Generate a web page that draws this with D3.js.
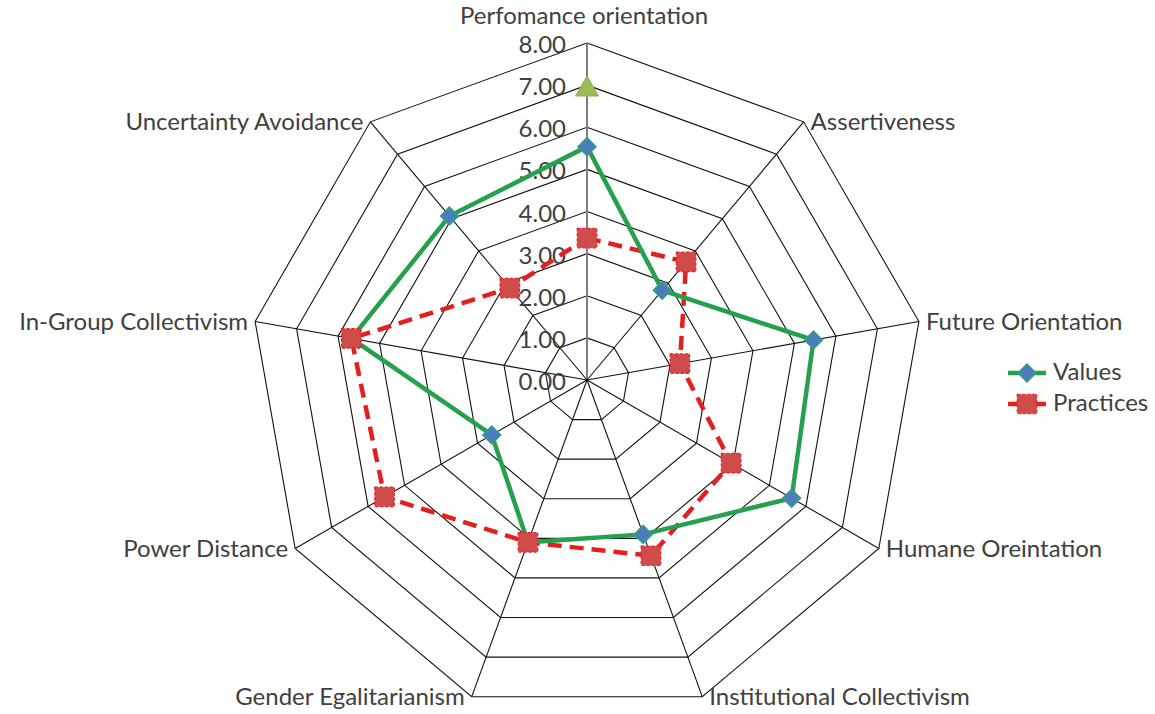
<!DOCTYPE html>
<html>
<head>
<meta charset="utf-8">
<script src="https://cdn.jsdelivr.net/npm/d3@7"></script>
<style>
  body { margin: 0; background: #fff; }
  svg { display: block; }
  text { font-family: Lato, "Open Sans", sans-serif; fill: #404040; }
</style>
</head>
<body>
<svg width="1155" height="714"></svg>
<script>
// chart data
const categories = ["Perfomance orientation", "Assertiveness", "Future Orientation",
  "Humane Oreintation", "Institutional Collectivism", "Gender Egalitarianism",
  "Power Distance", "In-Group Collectivism", "Uncertainty Avoidance"];
const valuesSeries = [5.54, 2.78, 5.46, 5.61, 3.90, 4.10, 2.61, 5.68, 5.08];
const practicesSeries = [3.37, 3.66, 2.24, 3.95, 4.44, 4.10, 5.55, 5.68, 2.85];
const targetSeries = [6.90, null, null, null, null, null, null, null, null];
const tickValues = [0, 1, 2, 3, 4, 5, 6, 7, 8];
const legendNames = ["Values", "Practices"];

var svg = d3.select("svg");
var cx = 587, cy = 380;
var R = 337;
var fontSize = 24;

var r = d3.scaleLinear().domain([0, 8]).range([0, R]);
var angle = d3.scaleLinear().domain([0, categories.length]).range([0, 2 * Math.PI]);

function pt(i, v) {
    var a = angle(i);
    return [cx + r(v) * Math.sin(a), cy - r(v) * Math.cos(a)];
}

var g = svg.append("g");

// grid nonagons
g.selectAll("polygon.grid")
    .data(tickValues.slice(1))
    .enter()
    .append("polygon")
    .attr("class", "grid")
    .attr("points", t => categories.map((c, i) => pt(i, t).join(",")).join(" "))
    .attr("fill", "none")
    .attr("stroke", "#111")
    .attr("stroke-width", 1.1);

// spokes
g.selectAll("line.spoke")
    .data(categories)
    .enter()
    .append("line")
    .attr("x1", cx).attr("y1", cy)
    .attr("x2", (d, i) => pt(i, 8)[0])
    .attr("y2", (d, i) => pt(i, 8)[1])
    .attr("stroke", (d, i) => i == 0 ? "#7f7f7f" : "#111")
    .attr("stroke-width", (d, i) => i == 0 ? 2 : 1.1);

// tick labels
g.selectAll("text.tick")
    .data(tickValues)
    .enter()
    .append("text")
    .attr("x", cx - 21)
    .attr("y", t => cy - r(t) + 4)
    .attr("text-anchor", "end")
    .attr("dominant-baseline", "middle")
    .style("font-size", fontSize + "px")
    .text(t => d3.format(".2f")(t));

// category labels
g.selectAll("text.cat")
    .data(categories)
    .enter()
    .append("text")
    .attr("x", (d, i) => {
        var p = pt(i, 8);
        if (i == 0) return p[0] - 3;
        return i < 5 ? p[0] + 7 : p[0] - 7;
    })
    .attr("y", (d, i) => i == 0 ? pt(i, 8)[1] - 25 : pt(i, 8)[1] + 2)
    .attr("text-anchor", (d, i) => i == 0 ? "middle" : (i < 5 ? "start" : "end"))
    .attr("dominant-baseline", "middle")
    .style("font-size", fontSize + "px")
    .text(d => d);

var radial = d3.lineRadial()
    .angle((d, i) => angle(i))
    .radius(d => r(d))
    .curve(d3.curveLinearClosed);

var series = g.append("g").attr("transform", `translate(${cx},${cy})`);

series.append("path")
    .attr("d", radial(practicesSeries))
    .attr("fill", "none")
    .attr("stroke", "#e3201f")
    .attr("stroke-width", 4.5)
    .attr("stroke-dasharray", "14,8");

series.append("path")
    .attr("d", radial(valuesSeries))
    .attr("fill", "none")
    .attr("stroke", "#25a04c")
    .attr("stroke-width", 4.5);

var diamond = d3.symbol().type(d3.symbolSquare).size(160);
var square = d3.symbol().type(d3.symbolSquare).size(380);
var tri = d3.symbol().type(d3.symbolTriangle).size(230);

g.selectAll("path.vmark")
    .data(valuesSeries)
    .enter()
    .append("path")
    .attr("d", diamond)
    .attr("transform", (d, i) => `translate(${pt(i, d)}) rotate(45)`)
    .attr("fill", "#4a7ebb")
    .attr("stroke", "#3a9a8a")
    .attr("stroke-width", 1.5);

g.selectAll("path.pmark")
    .data(practicesSeries)
    .enter()
    .append("path")
    .attr("d", square)
    .attr("transform", (d, i) => `translate(${pt(i, d)})`)
    .attr("fill", "#cf4c4a")
    .attr("stroke", "#e3201f")
    .attr("stroke-width", 1.2)
    .attr("stroke-dasharray", "3,2");

g.selectAll("path.tmark")
    .data(targetSeries.map((v, i) => [v, i]).filter(d => d[0] != null))
    .enter()
    .append("path")
    .attr("d", tri)
    .attr("transform", d => `translate(${pt(d[1], d[0])})`)
    .attr("fill", "#9bbb59")
    .attr("stroke", "#8aae4a");

// legend
var legend = svg.append("g").attr("transform", "translate(1008,373)");
legendNames.forEach((name, k) => {
    var row = legend.append("g").attr("transform", `translate(0,${k * 31})`);
    row.append("line")
        .attr("x1", 0).attr("x2", 38)
        .attr("stroke", k == 0 ? "#25a04c" : "#e3201f")
        .attr("stroke-width", 4.5)
        .attr("stroke-dasharray", k == 0 ? null : "10,4");
    if (k == 0) {
        row.append("path").attr("d", diamond)
            .attr("transform", "translate(19,0) rotate(45)")
            .attr("fill", "#4a7ebb").attr("stroke", "#3a9a8a").attr("stroke-width", 1.5);
    } else {
        row.append("path").attr("d", square)
            .attr("transform", "translate(19,0)")
            .attr("fill", "#cf4c4a").attr("stroke", "#e3201f")
            .attr("stroke-width", 1.2).attr("stroke-dasharray", "3,2");
    }
    row.append("text")
        .attr("x", 45).attr("y", 1)
        .attr("dominant-baseline", "middle")
        .style("font-size", fontSize + "px")
        .text(name);
});
</script>
</body>
</html>
